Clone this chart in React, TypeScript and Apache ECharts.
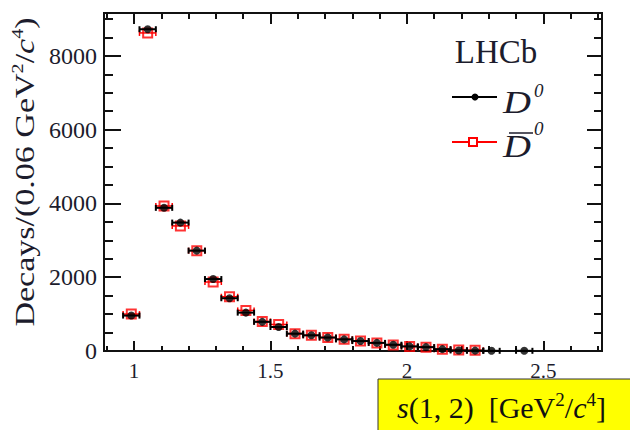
import React, { useEffect, useRef } from "react";
import * as echarts from "echarts";

// D0 (black filled circles)
const d0X = [0.99, 1.05, 1.11, 1.17, 1.23, 1.29, 1.35, 1.41, 1.47, 1.53, 1.59, 1.65, 1.71, 1.77, 1.83, 1.89, 1.95, 2.01, 2.07, 2.13, 2.19, 2.25, 2.31, 2.43];
const d0Y = [960, 8720, 3880, 3480, 2720, 1950, 1430, 1040, 790, 650, 470, 425, 365, 315, 270, 220, 170, 125, 105, 50, 15, 10, 5, 5];
// D0-bar (red open squares)
const d0barX = [0.99, 1.05, 1.11, 1.17, 1.23, 1.29, 1.35, 1.41, 1.47, 1.53, 1.59, 1.65, 1.71, 1.77, 1.83, 1.89, 1.95, 2.01, 2.07, 2.13, 2.19, 2.25];
const d0barY = [1000, 8620, 3930, 3390, 2720, 1870, 1470, 1100, 800, 720, 470, 425, 365, 320, 270, 220, 160, 120, 100, 50, 25, 20];

const binHalfWidth = 0.03;

const xMajorTicks = [1, 1.5, 2, 2.5];
const xMinorTicks = [0.9, 1.1, 1.2, 1.3, 1.4, 1.6, 1.7, 1.8, 1.9, 2.1, 2.2, 2.3, 2.4, 2.6, 2.7];
const yMajorTicks = [0, 2000, 4000, 6000, 8000];
const yMinorTicks = [500, 1000, 1500, 2500, 3000, 3500, 4500, 5000, 5500, 6500, 7000, 7500, 8500, 9000];

const X_MIN = 0.89;
const X_MAX = 2.715;
const Y_MIN = 0;
const Y_MAX = 9160;

const SERIF = "'Liberation Serif', 'DejaVu Serif', serif";
const AXIS_COLOR = "#111";
const LABEL_COLOR = "#1c1c2c";

function xAxisDef(position: string, ticks: number[], len: number, labels: boolean) {
  return {
    type: "value",
    position,
    min: X_MIN,
    max: X_MAX,
    axisLine: { show: true, onZero: false, lineStyle: { color: AXIS_COLOR, width: 2 } },
    axisTick: { show: true, inside: true, length: len, customValues: ticks, lineStyle: { color: AXIS_COLOR, width: 2 } },
    axisLabel: labels
      ? { show: true, customValues: xMajorTicks, margin: 9, fontFamily: SERIF, fontSize: 21, color: LABEL_COLOR, formatter: (v: number) => String(v) }
      : { show: false },
    splitLine: { show: false },
    minorTick: { show: false },
  };
}

function yAxisDef(position: string, ticks: number[], len: number, labels: boolean) {
  return {
    type: "value",
    position,
    min: Y_MIN,
    max: Y_MAX,
    axisLine: { show: true, onZero: false, lineStyle: { color: AXIS_COLOR, width: 2 } },
    axisTick: { show: true, inside: true, length: len, customValues: ticks, lineStyle: { color: AXIS_COLOR, width: 2 } },
    axisLabel: labels
      ? { show: true, customValues: yMajorTicks, margin: 7, fontFamily: SERIF, fontSize: 24, color: LABEL_COLOR, formatter: (v: number) => String(v) }
      : { show: false },
    splitLine: { show: false },
    minorTick: { show: false },
  };
}

function errBar(color: string, width: number) {
  return (params: any, api: any) => {
    const x = api.value(0);
    const y = api.value(1);
    const p1 = api.coord([x - binHalfWidth, y]);
    const p2 = api.coord([x + binHalfWidth, y]);
    const cap = 3;
    const style = { stroke: color, lineWidth: width };
    return {
      type: "group",
      children: [
        { type: "line", shape: { x1: p1[0], y1: p1[1], x2: p2[0], y2: p2[1] }, style },
        { type: "line", shape: { x1: p1[0], y1: p1[1] - cap, x2: p1[0], y2: p1[1] + cap }, style },
        { type: "line", shape: { x1: p2[0], y1: p2[1] - cap, x2: p2[0], y2: p2[1] + cap }, style },
      ],
    };
  };
}

export default function App() {
  const ref = useRef<HTMLDivElement>(null);
  useEffect(() => {
    if (!ref.current) return;
    const chart = echarts.init(ref.current, null, { renderer: "svg" });
    const blackData = d0X.map((x, i) => [x, d0Y[i]]);
    const redData = d0barX.map((x, i) => [x, d0barY[i]]);
    const option: any = {
      animation: false,
      backgroundColor: "#ffffff",
      grid: { left: 104, top: 13, width: 498, height: 338, containLabel: false },
      xAxis: [
        xAxisDef("bottom", xMajorTicks, 10, true),
        xAxisDef("bottom", xMinorTicks, 5, false),
        xAxisDef("top", xMajorTicks, 11, false),
        xAxisDef("top", xMinorTicks, 6, false),
      ],
      yAxis: [
        yAxisDef("left", yMajorTicks, 17, true),
        yAxisDef("left", yMinorTicks, 9, false),
        yAxisDef("right", yMajorTicks, 15, false),
        yAxisDef("right", yMinorTicks, 8, false),
      ],
      series: [
        {
          type: "custom",
          name: "D0bar err",
          xAxisIndex: 0,
          yAxisIndex: 0,
          renderItem: errBar("#ff0000", 1.5),
          data: redData,
          z: 2,
        },
        {
          type: "scatter",
          name: "D0bar",
          xAxisIndex: 0,
          yAxisIndex: 0,
          symbol: "rect",
          symbolSize: 9,
          itemStyle: { color: "rgba(255,255,255,0)", borderColor: "#ff0000", borderWidth: 2 },
          data: redData,
          z: 3,
        },
        {
          type: "custom",
          name: "D0 err",
          xAxisIndex: 0,
          yAxisIndex: 0,
          renderItem: errBar("#000000", 2),
          data: blackData,
          z: 4,
        },
        {
          type: "scatter",
          name: "D0",
          xAxisIndex: 0,
          yAxisIndex: 0,
          symbol: "circle",
          symbolSize: 8,
          itemStyle: { color: "#000000" },
          data: blackData,
          z: 5,
        },
      ],
      graphic: [
        // y axis title
        {
          type: "text",
          x: 25,
          y: 172,
          rotation: Math.PI / 2,
          scaleX: 1.26,
          scaleY: 1,
          style: {
            text: "Decays/(0.06 GeV{sup|2}/{it|c}{sup|4})",
            fontFamily: SERIF,
            fontSize: 27,
            lineHeight: 30,
            fill: LABEL_COLOR,
            align: "center",
            verticalAlign: "middle",
            rich: {
              sup: { fontFamily: SERIF, fontSize: 16, lineHeight: 16, verticalAlign: "top", fill: LABEL_COLOR },
              it: { fontFamily: SERIF, fontSize: 27, fontStyle: "italic", fill: LABEL_COLOR },
            },
          },
        },
        // LHCb label
        {
          type: "text",
          x: 496,
          y: 52,
          style: { text: "LHCb", fontFamily: SERIF, fontSize: 33, fill: LABEL_COLOR, align: "center", verticalAlign: "middle" },
        },
        // legend D0
        { type: "line", shape: { x1: 452, y1: 97, x2: 497, y2: 97 }, style: { stroke: "#000", lineWidth: 2 } },
        { type: "circle", shape: { cx: 475, cy: 97, r: 3.5 }, style: { fill: "#000" } },
        {
          type: "text",
          x: 503,
          y: 103,
          scaleX: 1.25,
          style: { text: "D", fontFamily: SERIF, fontStyle: "italic", fontSize: 31, fill: LABEL_COLOR, align: "left", verticalAlign: "middle" },
        },
        {
          type: "text",
          x: 534,
          y: 90,
          style: { text: "0", fontFamily: SERIF, fontStyle: "italic", fontSize: 19, fill: LABEL_COLOR, align: "left", verticalAlign: "middle" },
        },
        // legend D0bar
        { type: "line", shape: { x1: 452, y1: 142, x2: 497, y2: 142 }, style: { stroke: "#ff0000", lineWidth: 2 } },
        { type: "rect", shape: { x: 469, y: 138, width: 8, height: 8 }, style: { fill: "#fff", stroke: "#ff0000", lineWidth: 2 } },
        {
          type: "text",
          x: 503,
          y: 147,
          scaleX: 1.25,
          style: { text: "D", fontFamily: SERIF, fontStyle: "italic", fontSize: 31, fill: LABEL_COLOR, align: "left", verticalAlign: "middle" },
        },
        { type: "line", shape: { x1: 509, y1: 133, x2: 533, y2: 133 }, style: { stroke: LABEL_COLOR, lineWidth: 1.5 } },
        {
          type: "text",
          x: 534,
          y: 128,
          style: { text: "0", fontFamily: SERIF, fontStyle: "italic", fontSize: 19, fill: LABEL_COLOR, align: "left", verticalAlign: "middle" },
        },
        // bottom yellow box with x axis title
        {
          type: "rect",
          shape: { x: 378, y: 379, width: 262, height: 60 },
          style: { fill: "#ffff00", stroke: "#333", lineWidth: 1 },
        },
        {
          type: "text",
          x: 397,
          y: 407,
          style: {
            text: "{it|s}(1, 2)  [GeV{sup|2}/{it|c}{sup|4}]",
            fontFamily: SERIF,
            fontSize: 30,
            lineHeight: 34,
            fill: "#111",
            align: "left",
            verticalAlign: "middle",
            rich: {
              it: { fontFamily: SERIF, fontSize: 30, fontStyle: "italic", fill: "#111" },
              sup: { fontFamily: SERIF, fontSize: 19, lineHeight: 19, verticalAlign: "top", fill: "#111" },
            },
          },
        },
      ],
    };
    chart.setOption(option);
    return () => chart.dispose();
  }, []);
  return (
    <div
      ref={ref}
      style={{ position: "fixed", left: 0, top: 0, width: 630, height: 430, background: "#fff" }}
    />
  );
}
